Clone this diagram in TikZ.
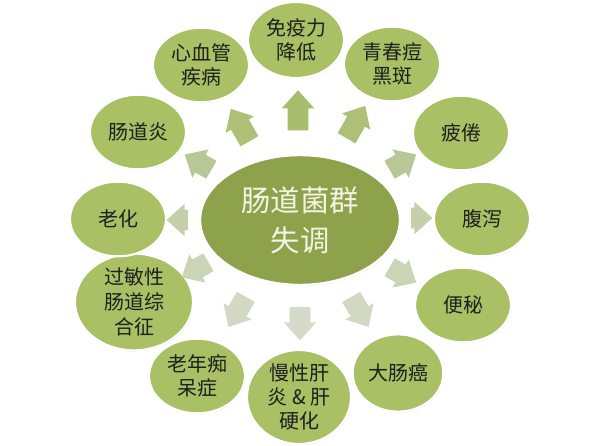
\documentclass[tikz,border=0pt]{standalone}
\usepackage{fontspec}
\setmainfont{Noto Sans CJK SC}
\usetikzlibrary{shapes.geometric,shapes.arrows,shadows}
\definecolor{outerfill}{HTML}{A9C064}
\definecolor{centerfill}{HTML}{8EA24B}
\definecolor{centertext}{HTML}{F4F4E2}
\definecolor{arA}{HTML}{A7BD6B}
\definecolor{arB}{HTML}{ADC075}
\definecolor{arC}{HTML}{B7C795}
\definecolor{arD}{HTML}{C4D0A9}
\definecolor{arE}{HTML}{CAD5B6}
\definecolor{arF}{HTML}{D1D9C2}
\definecolor{arG}{HTML}{D4DBC8}
\tikzset{
  bubble/.style={ellipse, fill=outerfill, draw=white, line width=1.6pt,
    inner sep=0pt, align=center, text=black!88,
    minimum width=72pt, minimum height=56pt,
    font=\fontsize{15}{18}\selectfont,
    drop shadow={shadow xshift=0.5pt, shadow yshift=-0.7pt, opacity=0.25, fill=black!60}},
  hub/.style={ellipse, fill=centerfill, draw=white, line width=1.8pt,
    inner sep=0pt, align=center, text=centertext,
    minimum width=150pt, minimum height=97.5pt,
    font=\fontsize{22}{30}\selectfont,
    drop shadow={shadow xshift=0.5pt, shadow yshift=-0.8pt, opacity=0.25, fill=black!60}},
  blk/.style={single arrow, draw=none, inner xsep=0pt, inner ysep=7.5pt,
    single arrow head extend=4.5pt,
    single arrow tip angle=84}
}
\begin{document}
\begin{tikzpicture}[x=0.75pt,y=-0.75pt]
\useasboundingbox (0,0) rectangle (600,446);
\fill[white] (0,0) rectangle (600,446);

% outer bubbles
\node[bubble, minimum height=57pt] (o1) at (296,40) {免疫力\\降低};
\node[bubble] (o2) at (392,64) {青春痘\\黑斑};
\node[bubble] (o3) at (461,133) {疲倦};
\node[bubble] (o4) at (482,219) {腹泻};
\node[bubble] (o5) at (463,305) {便秘};
\node[bubble, minimum width=68pt, minimum height=58pt] (o6) at (398,373) {大肠癌};
\node[bubble, minimum width=78pt, minimum height=68pt] (o7) at (299,397) {慢性肝\\炎 \& 肝\\硬化};
\node[bubble] (o8) at (197,376) {老年痴\\呆症};
\node[bubble, minimum width=88.5pt, font=\fontsize{15}{18.75}\selectfont] (o9) at (134,302) {过敏性\\肠道综\\合征};
\node[bubble] (o10) at (118,219) {老化};
\node[bubble] (o11) at (138,132) {肠道炎};
\node[bubble] (o12) at (201,65) {心血管\\疾病};

% center
\node[hub] (c) at (300,220) {肠道菌群\\失调};

% arrows
\node[blk, fill=arA, rotate=90,   minimum height=30pt] (a1)  at (298,116) {};
\node[blk, fill=arB, rotate=60,   minimum height=28pt] (a2)  at (353,127) {};
\node[blk, fill=arC, rotate=30,   minimum height=23pt] (a3)  at (398,165) {};
\node[blk, fill=arD, rotate=0,    minimum height=16pt] (a4)  at (416,218) {};
\node[blk, fill=arE, rotate=-30,  minimum height=23pt] (a5)  at (398,272) {};
\node[blk, fill=arF, rotate=-60,  minimum height=26pt] (a6)  at (357,307) {};
\node[blk, fill=arG, rotate=-90,  minimum height=25pt] (a7)  at (300,318) {};
\node[blk, fill=arF, rotate=-120, minimum height=26pt] (a8)  at (240,307) {};
\node[blk, fill=arE, rotate=-150, minimum height=23pt] (a9)  at (200,267) {};
\node[blk, fill=arD, rotate=180,  minimum height=16pt] (a10) at (183,220) {};
\node[blk, fill=arC, rotate=150,  minimum height=23pt] (a11) at (203,165) {};
\node[blk, fill=arB, rotate=120,  minimum height=28pt] (a12) at (243,130) {};
\end{tikzpicture}
\end{document}
